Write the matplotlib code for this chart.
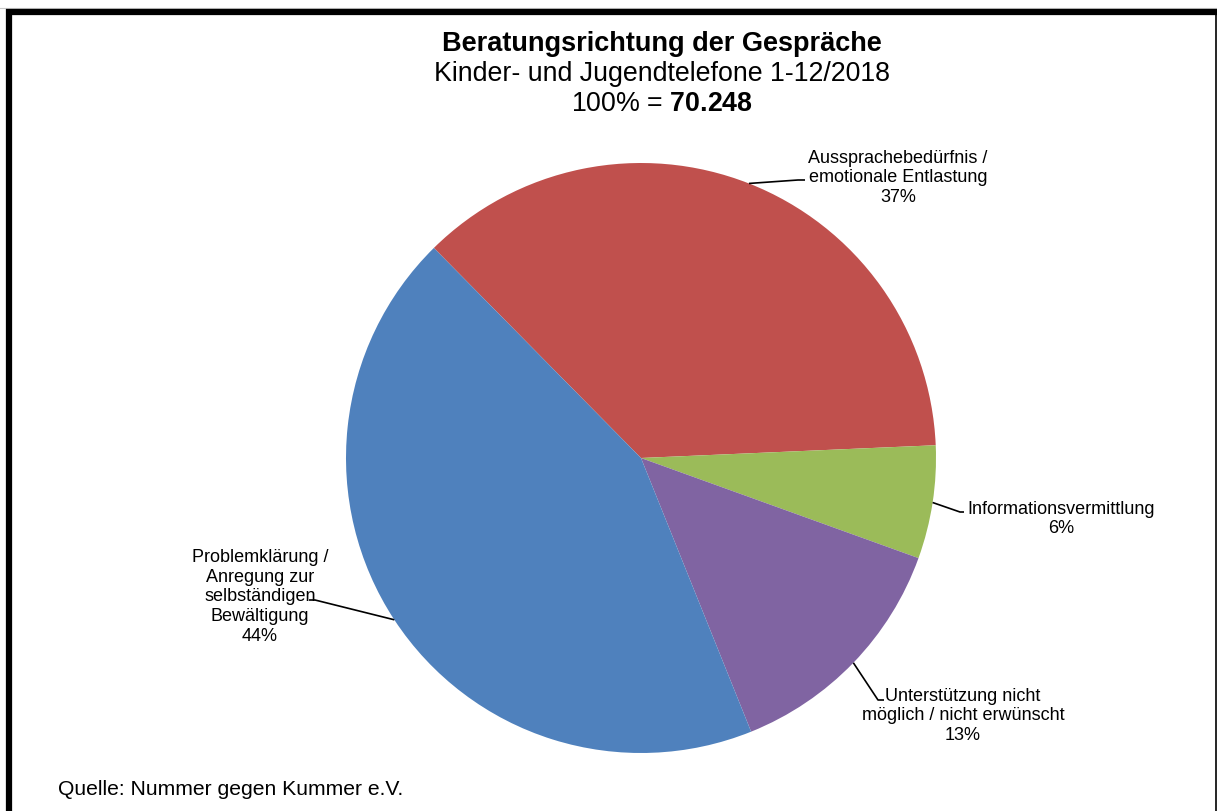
import numpy as np
import matplotlib
matplotlib.use("Agg")
import matplotlib.pyplot as plt
from matplotlib.lines import Line2D

plt.rcParams['font.family'] = ['Liberation Sans', 'DejaVu Sans']
plt.rcParams['mathtext.fontset'] = 'custom'
plt.rcParams['mathtext.rm'] = 'Liberation Sans'
plt.rcParams['mathtext.bf'] = 'Liberation Sans:bold'

# Data (share of conversations, percent)
categories = ['Aussprachebedürfnis /\nemotionale Entlastung',
              'Informationsvermittlung',
              'Unterstützung nicht\nmöglich / nicht erwünscht',
              'Problemklärung /\nAnregung zur\nselbständigen\nBewältigung']
shares = [36.7, 6.2, 13.4, 43.7]
colors = ['#C0504D', '#9BBB59', '#8064A2', '#4F81BD']
total = '70.248'

W, H = 1217, 812
fig = plt.figure(figsize=(W / 100, H / 100), dpi=100)
ax = fig.add_axes([0, 0, 1, 1])

# pie in pixel-like coordinates (y up)
cx, cy, r = 641, H - 459, 295
start = 134.6
wedges, _ = ax.pie(shares, colors=colors, startangle=start, counterclock=False,
                   center=(cx, cy), radius=r,
                   wedgeprops=dict(linewidth=0))
ax.set_xlim(0, W)
ax.set_ylim(0, H)
ax.set_aspect('auto')
ax.axis('off')

# label layout: text anchor, elbow point, line end
layout = [
    dict(text=(898, H - 178), elbow=(798, H - 181), end=(805, H - 181)),
    dict(text=(1061, H - 519), elbow=(960, H - 513), end=(964, H - 513)),
    dict(text=(963, H - 716), elbow=(878, H - 701), end=(884, H - 701)),
    dict(text=(260, H - 597), elbow=(315, H - 601), end=(309, H - 601)),
]

for w, cat, val, lay in zip(wedges, categories, shares, layout):
    mid = np.deg2rad((w.theta1 + w.theta2) / 2)
    ex, ey = cx + r * np.cos(mid), cy + r * np.sin(mid)
    ax.plot([ex, lay['elbow'][0], lay['end'][0]],
            [ey, lay['elbow'][1], lay['end'][1]],
            color='black', linewidth=1.2, solid_capstyle='butt')
    ax.text(lay['text'][0], lay['text'][1], f"{cat}\n{round(val):.0f}%",
            ha='center', va='center', fontsize=13, linespacing=1.2)

# titles
tx = 662 / W
fig.text(tx, 1 - 44 / H, 'Beratungsrichtung der Gespräche', ha='center', va='center',
         fontsize=19.5, fontweight='bold')
fig.text(tx, 1 - 74 / H, 'Kinder- und Jugendtelefone 1-12/2018', ha='center', va='center',
         fontsize=19.3)
fig.text(tx, 1 - 104 / H, '100% = $\\mathbf{' + total + '}$', ha='center', va='center',
         fontsize=19.3)

fig.text(58 / W, 1 - 790 / H, 'Quelle: Nummer gegen Kummer e.V.', ha='left', va='center',
         fontsize=15.2)

# frame
fig.add_artist(Line2D([0, 1], [1 - 9 / H, 1 - 9 / H], color='#c8c8c8', linewidth=0.8))
fig.add_artist(Line2D([6 / W, 1], [1 - 13 / H, 1 - 13 / H], color='black', linewidth=4.5,
                      solid_capstyle='butt'))
fig.add_artist(Line2D([9 / W, 9 / W], [0, 1 - 10 / H], color='black', linewidth=4.5,
                      solid_capstyle='butt'))
fig.add_artist(Line2D([1215.5 / W, 1215.5 / W], [0, 1 - 13 / H], color='black', linewidth=1.2))

fig.savefig('out.png', dpi=100)
